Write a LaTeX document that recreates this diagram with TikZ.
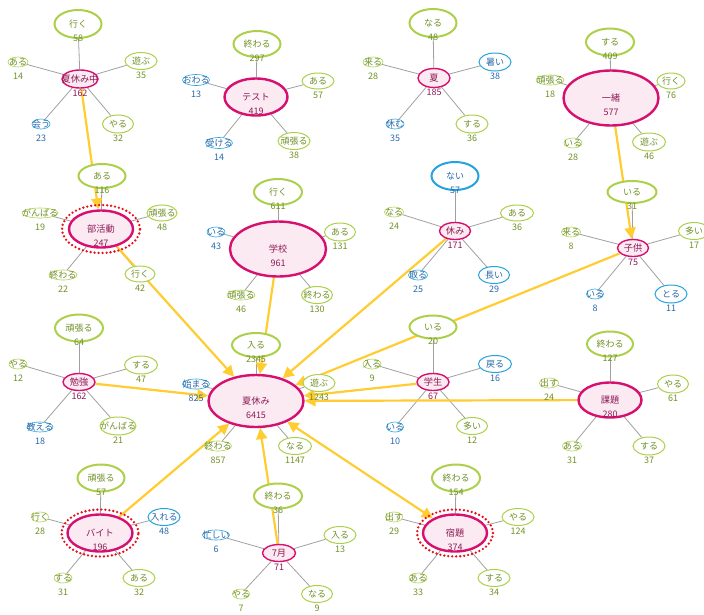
\documentclass[tikz,border=0pt]{standalone}
\usepackage{fontspec}
\newfontfamily\jp{Noto Sans CJK JP}
\usetikzlibrary{shapes.geometric, arrows.meta}
\pgfdeclarelayer{bg}
\pgfsetlayers{bg,main}
\definecolor{hubline}{RGB}{214,16,110}
\definecolor{hubfill}{RGB}{252,234,243}
\definecolor{hubtext}{RGB}{140,28,84}
\definecolor{grnline}{RGB}{172,208,74}
\definecolor{grntext}{RGB}{112,145,40}
\definecolor{bluline}{RGB}{38,162,222}
\definecolor{blutext}{RGB}{40,105,170}
\definecolor{lgray}{RGB}{160,160,160}
\definecolor{flowy}{RGB}{255,205,50}
\definecolor{ringred}{RGB}{232,16,24}

\begin{document}
\begin{tikzpicture}[x=1pt, y=-1pt,
    kw/.style={ellipse, inner sep=0pt, text height=6pt, text depth=0pt,
      execute at begin node={\setbox0=\hbox\bgroup},
      execute at end node={\egroup\hbox to 0pt{\hss\box0\hss}}},
    sz/.style 2 args={minimum width=#1pt, minimum height=#2pt},
    hub/.style={kw, draw=hubline, fill=hubfill, text=hubtext, line width=1.4pt,
      font=\jp\fontsize{9.2}{10}\selectfont,
      label={[text=hubtext, font=\jp\fontsize{9}{10}\selectfont, yshift=-14pt]center:#1}},
    thickhub/.style={line width=2.4pt},
    gs/.style={kw, draw=grnline, fill=white, text=grntext, line width=1pt,
      font=\jp\fontsize{9}{10}\selectfont,
      label={[text=grntext, font=\jp\fontsize{9}{10}\selectfont, yshift=-14.5pt]center:#1}},
    bs/.style={kw, draw=bluline, fill=white, text=blutext, line width=1pt,
      font=\jp\fontsize{9}{10}\selectfont,
      label={[text=blutext, font=\jp\fontsize{9}{10}\selectfont, yshift=-14.5pt]center:#1}},
    leadsp/.style={line width=2pt},
    smallsp/.style={line width=0.6pt, minimum height=11pt},
    spoke/.style={draw=lgray, line width=0.8pt},
    flow/.style={draw=flowy, line width=2.2pt, -{Triangle[length=11pt,width=11pt]}},
    ring/.style={ellipse, draw=ringred, line width=2.6pt, dash pattern=on 0pt off 4pt, line cap=round}]
  \useasboundingbox (0,0) rectangle (704,614);

  % 夏休み中
  \node[hub=162, sz={36}{18}] (nyc) at (80,79) {夏休み中};
  \node[gs=58, leadsp, sz={47}{28}] (nyc_1) at (78,24) {行く};
  \node[gs=14, smallsp, sz={20}{10}] (nyc_2) at (18,62) {ある};
  \node[gs=35, sz={32}{17}] (nyc_3) at (141,61) {遊ぶ};
  \node[bs=23, smallsp, sz={18}{10}] (nyc_4) at (41,124) {会う};
  \node[gs=32, sz={31}{18}] (nyc_5) at (118,124) {やる};

  % テスト
  \node[hub=419, thickhub, sz={63}{37}] (test) at (256,97) {テスト};
  \node[gs=297, leadsp, sz={47}{26}] (test_1) at (257,44) {終わる};
  \node[bs=13, smallsp, sz={27}{11}] (test_2) at (196,80) {おわる};
  \node[gs=57, sz={32}{16}] (test_3) at (318,81) {ある};
  \node[bs=14, smallsp, sz={27}{11}] (test_4) at (219,143) {受ける};
  \node[gs=38, sz={32}{17}] (test_5) at (294,141) {頑張る};

  % 夏
  \node[hub=185, sz={32}{19}] (natsu) at (434,78) {夏};
  \node[gs=48, leadsp, sz={47}{28}] (natsu_1) at (433,23) {なる};
  \node[gs=28, smallsp, sz={20}{10}] (natsu_2) at (373,62) {来る};
  \node[bs=38, sz={32}{18}] (natsu_3) at (495,62) {暑い};
  \node[bs=35, smallsp, sz={18}{10}] (natsu_4) at (395,124) {休む};
  \node[gs=36, sz={32}{18}] (natsu_5) at (472,124) {する};

  % 一緒
  \node[hub=577, thickhub, sz={95}{55}] (issho) at (611,98) {一緒};
  \node[gs=409, leadsp, sz={48}{27}] (issho_1) at (610,42) {する};
  \node[gs=18, smallsp, sz={28}{10}] (issho_2) at (550,80) {頑張る};
  \node[gs=76, sz={28}{16}] (issho_3) at (671,81) {行く};
  \node[gs=28, smallsp, sz={18}{10}] (issho_4) at (573,143) {いる};
  \node[gs=46, sz={33}{18}] (issho_5) at (649,142) {遊ぶ};

  % 部活動
  \node[hub=247, thickhub, sz={64}{37}] (bukatsu) at (101,229) {部活動};
  \node[ring, sz={78}{48}] (bukatsu_r) at (bukatsu) {};
  \node[gs=116, leadsp, sz={47}{24}] (bukatsu_1) at (102,176) {ある};
  \node[gs=19, smallsp, sz={36}{10}] (bukatsu_2) at (40,213) {がんばる};
  \node[gs=48, sz={30}{16}] (bukatsu_3) at (162,213) {頑張る};
  \node[gs=22, smallsp, sz={28}{10}] (bukatsu_4) at (63,275) {終わる};
  \node[gs=42, sz={30}{16}] (bukatsu_5) at (140,274) {行く};

  % 学校
  \node[hub=961, thickhub, sz={96}{55}] (gakko) at (278,249) {学校};
  \node[gs=611, leadsp, sz={48}{26}] (gakko_1) at (278,192) {行く};
  \node[bs=43, smallsp, sz={18}{10}] (gakko_2) at (216,232) {いる};
  \node[gs=131, sz={31}{18}] (gakko_3) at (340,232) {ある};
  \node[gs=46, smallsp, sz={28}{10}] (gakko_4) at (241,295) {頑張る};
  \node[gs=130, sz={31}{17}] (gakko_5) at (317,295) {終わる};

  % 休み
  \node[hub=171, sz={31}{17}] (yasumi) at (455,231) {休み};
  \node[bs=57, leadsp, sz={47}{28}] (yasumi_1) at (455,176) {ない};
  \node[gs=24, smallsp, sz={19}{10}] (yasumi_2) at (394,212) {なる};
  \node[gs=36, sz={33}{16}] (yasumi_3) at (517,213) {ある};
  \node[bs=25, smallsp, sz={19}{10}] (yasumi_4) at (418,275) {取る};
  \node[bs=29, sz={31}{17}] (yasumi_5) at (494,275) {長い};

  % 子供
  \node[hub=75, sz={31}{17}] (kodomo) at (633,248) {子供};
  \node[gs=31, leadsp, sz={49}{22}] (kodomo_1) at (632,192) {いる};
  \node[gs=8, smallsp, sz={19}{10}] (kodomo_2) at (571,232) {来る};
  \node[gs=17, sz={31}{17}] (kodomo_3) at (694,231) {多い};
  \node[bs=8, smallsp, sz={17}{10}] (kodomo_4) at (595,294) {いる};
  \node[bs=11, sz={32}{18}] (kodomo_5) at (671,294) {とる};

  % 勉強
  \node[hub=162, sz={32}{17}] (benkyo) at (79,382) {勉強};
  \node[gs=64, leadsp, sz={48}{27}] (benkyo_1) at (79,328) {頑張る};
  \node[gs=12, smallsp, sz={18}{10}] (benkyo_2) at (18,364) {やる};
  \node[gs=47, sz={33}{18}] (benkyo_3) at (141,365) {する};
  \node[bs=18, smallsp, sz={26}{10}] (benkyo_4) at (40,427) {教える};
  \node[gs=21, sz={36}{18}] (benkyo_5) at (118,426) {がんばる};

  % 夏休み
  \node[hub=6415, thickhub, sz={95}{52}] (nyasumi) at (256,401) {夏休み};
  \node[gs=2345, leadsp, sz={48}{24}] (nyasumi_1) at (256,345) {入る};
  \node[bs=825, smallsp, sz={27}{10}] (nyasumi_2) at (196,384) {始まる};
  \node[gs=1243, sz={32}{17}] (nyasumi_3) at (319,383) {遊ぶ};
  \node[gs=857, smallsp, sz={27}{10}] (nyasumi_4) at (218,446) {終わる};
  \node[gs=1147, sz={33}{17}] (nyasumi_5) at (295,446) {なる};

  % 学生
  \node[hub=67, sz={32}{17}] (gakusei) at (433,382) {学生};
  \node[gs=20, leadsp, sz={47}{23}] (gakusei_1) at (433,327) {いる};
  \node[gs=9, smallsp, sz={18}{10}] (gakusei_2) at (372,364) {入る};
  \node[bs=16, sz={33}{17}] (gakusei_3) at (495,364) {戻る};
  \node[bs=10, smallsp, sz={17}{10}] (gakusei_4) at (395,427) {いる};
  \node[gs=12, sz={31}{17}] (gakusei_5) at (472,426) {多い};

  % 課題
  \node[hub=280, thickhub, sz={63}{35}] (kadai) at (610,400) {課題};
  \node[gs=127, leadsp, sz={46}{25}] (kadai_1) at (610,344) {終わる};
  \node[gs=24, smallsp, sz={19}{10}] (kadai_2) at (549,383) {出す};
  \node[gs=61, sz={31}{18}] (kadai_3) at (673,384) {やる};
  \node[gs=31, smallsp, sz={19}{10}] (kadai_4) at (572,446) {ある};
  \node[gs=37, sz={32}{18}] (kadai_5) at (649,446) {する};

  % バイト
  \node[hub=196, thickhub, sz={65}{37}] (baito) at (100,533) {バイト};
  \node[ring, sz={77}{47}] (baito_r) at (baito) {};
  \node[gs=57, leadsp, sz={47}{27}] (baito_1) at (101,478) {頑張る};
  \node[gs=28, smallsp, sz={17}{10}] (baito_2) at (40,517) {行く};
  \node[bs=48, sz={32}{17}] (baito_3) at (164,517) {入れる};
  \node[gs=31, smallsp, sz={18}{10}] (baito_4) at (63,578) {する};
  \node[gs=32, sz={32}{17}] (baito_5) at (139,578) {ある};

  % 7月
  \node[hub=71, sz={33}{17}] (jul) at (279,553) {7月};
  \node[gs=36, leadsp, sz={48}{25}] (jul_1) at (278,496) {終わる};
  \node[bs=6, smallsp, sz={27}{10}] (jul_2) at (216,535) {忙しい};
  \node[gs=13, sz={32}{17}] (jul_3) at (340,535) {入る};
  \node[gs=7, smallsp, sz={17}{10}] (jul_4) at (241,594) {やる};
  \node[gs=9, sz={31}{17}] (jul_5) at (317,594) {なる};

  % 宿題
  \node[hub=374, thickhub, sz={64}{37}] (shukudai) at (455,533) {宿題};
  \node[ring, sz={76}{47}] (shukudai_r) at (shukudai) {};
  \node[gs=154, leadsp, sz={48}{27}] (shukudai_1) at (456,478) {終わる};
  \node[gs=29, smallsp, sz={17}{10}] (shukudai_2) at (394,517) {出す};
  \node[gs=124, sz={32}{17}] (shukudai_3) at (518,517) {やる};
  \node[gs=33, smallsp, sz={18}{10}] (shukudai_4) at (418,578) {ある};
  \node[gs=34, sz={32}{17}] (shukudai_5) at (494,578) {する};

  \begin{pgfonlayer}{bg}
    \path[spoke] (nyc) edge (nyc_1) edge (nyc_2) edge (nyc_3) edge (nyc_4) edge (nyc_5);
    \path[spoke] (test) edge (test_1) edge (test_2) edge (test_3) edge (test_4) edge (test_5);
    \path[spoke] (natsu) edge (natsu_1) edge (natsu_2) edge (natsu_3) edge (natsu_4) edge (natsu_5);
    \path[spoke] (issho) edge (issho_1) edge (issho_2) edge (issho_3) edge (issho_4) edge (issho_5);
    \path[spoke] (bukatsu) edge (bukatsu_1) edge (bukatsu_2) edge (bukatsu_3) edge (bukatsu_4) edge (bukatsu_5);
    \path[spoke] (gakko) edge (gakko_1) edge (gakko_2) edge (gakko_3) edge (gakko_4) edge (gakko_5);
    \path[spoke] (yasumi) edge (yasumi_1) edge (yasumi_2) edge (yasumi_3) edge (yasumi_4) edge (yasumi_5);
    \path[spoke] (kodomo) edge (kodomo_1) edge (kodomo_2) edge (kodomo_3) edge (kodomo_4) edge (kodomo_5);
    \path[spoke] (benkyo) edge (benkyo_1) edge (benkyo_2) edge (benkyo_3) edge (benkyo_4) edge (benkyo_5);
    \path[spoke] (nyasumi) edge (nyasumi_1) edge (nyasumi_2) edge (nyasumi_3) edge (nyasumi_4) edge (nyasumi_5);
    \path[spoke] (gakusei) edge (gakusei_1) edge (gakusei_2) edge (gakusei_3) edge (gakusei_4) edge (gakusei_5);
    \path[spoke] (kadai) edge (kadai_1) edge (kadai_2) edge (kadai_3) edge (kadai_4) edge (kadai_5);
    \path[spoke] (baito) edge (baito_1) edge (baito_2) edge (baito_3) edge (baito_4) edge (baito_5);
    \path[spoke] (jul) edge (jul_1) edge (jul_2) edge (jul_3) edge (jul_4) edge (jul_5);
    \path[spoke] (shukudai) edge (shukudai_1) edge (shukudai_2) edge (shukudai_3) edge (shukudai_4) edge (shukudai_5);

    % links between the word groups
    \draw[flow] (nyc) -- (bukatsu);
    \draw[flow] (issho) -- (kodomo);
    \draw[flow] (bukatsu) -- (nyasumi);
    \draw[flow] (gakko) -- (nyasumi);
    \draw[flow] (yasumi) -- (nyasumi);
    \draw[flow] (kodomo) -- (nyasumi);
    \draw[flow] (gakusei) -- (nyasumi);
    \draw[flow] (kadai) -- (nyasumi);
    \draw[flow] (benkyo) -- (nyasumi);
    \draw[flow] (baito) -- (nyasumi);
    \draw[flow] (jul) -- (nyasumi);
    \draw[flow, {Triangle[length=11pt,width=11pt]}-{Triangle[length=11pt,width=11pt]}] (nyasumi) -- (shukudai);
  \end{pgfonlayer}
\end{tikzpicture}
\end{document}
